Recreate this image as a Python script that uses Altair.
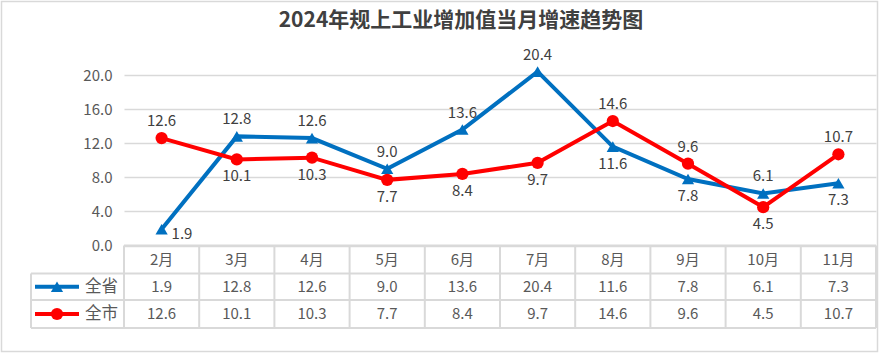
import altair as alt
import pandas as pd

# ---------------- data ----------------
months = ["2月", "3月", "4月", "5月", "6月", "7月", "8月", "9月", "10月", "11月"]
province = [1.9, 12.8, 12.6, 9.0, 13.6, 20.4, 11.6, 7.8, 6.1, 7.3]
city = [12.6, 10.1, 10.3, 7.7, 8.4, 9.7, 14.6, 9.6, 4.5, 10.7]
series_names = ["全省", "全市"]
series_colors = ["#0070C0", "#FF0000"]
series_shapes = ["triangle-up", "circle"]
y_ticks = [0, 4, 8, 12, 16, 20]
title_text = "2024年规上工业增加值当月增速趋势图"

# ---------------- layout constants ----------------
W = 752                 # plot width (10 columns)
PLOT_PX = 170.5         # pixel height of the 0..20 part
TABLE_PX = 82.5         # pixel height of the data table
H = PLOT_PX + TABLE_PX
Y_MAX = 20.0
PX = PLOT_PX / Y_MAX
Y_MIN = -TABLE_PX / PX
COL_PX = W / len(months)
row_bounds = [0.0, -28.0 / PX, -54.5 / PX, Y_MIN]
row_centers = [(row_bounds[i] + row_bounds[i + 1]) / 2 for i in range(3)]
LEG_LEFT = -93 / COL_PX
LEG_LINE_L = -89 / COL_PX
LEG_LINE_R = -45 / COL_PX
LEG_MARK = -67 / COL_PX
LEG_TEXT = -39 / COL_PX

FONT = "Noto Sans CJK SC"
GRID = "#d9d9d9"

# ---------------- tables ----------------
rows = []
for s, vals, other in [(series_names[0], province, city), (series_names[1], city, province)]:
    for i, (m, v, o) in enumerate(zip(months, vals, other)):
        if v >= o:
            pos = "above"
        elif v < 3:
            pos = "right"
        else:
            pos = "below"
        rows.append({"series": s, "month": m, "x": i + 0.5, "v": v, "pos": pos})
df = pd.DataFrame(rows)

seg = []
for i in range(len(months) + 1):
    seg.append({"x": float(i), "x2": float(i), "y": 0.0, "y2": Y_MIN})
seg.append({"x": LEG_LEFT, "x2": LEG_LEFT, "y": row_bounds[1], "y2": Y_MIN})
seg.append({"x": 0.0, "x2": float(len(months)), "y": 0.0, "y2": 0.0})
for b in row_bounds[1:]:
    seg.append({"x": LEG_LEFT, "x2": float(len(months)), "y": b, "y2": b})
seg_df = pd.DataFrame(seg)

header_df = pd.DataFrame({"x": [i + 0.5 for i in range(len(months))],
                          "y": [row_centers[0]] * len(months), "t": months})
cell_rows = []
for k, (s, vals) in enumerate([(series_names[0], province), (series_names[1], city)]):
    for i, v in enumerate(vals):
        cell_rows.append({"x": i + 0.5, "y": row_centers[k + 1], "t": f"{v:.1f}", "series": s})
cell_df = pd.DataFrame(cell_rows)

leg_df = pd.DataFrame({
    "series": series_names,
    "y": row_centers[1:],
    "xl": [LEG_LINE_L] * 2, "xr": [LEG_LINE_R] * 2,
    "xm": [LEG_MARK] * 2, "xt": [LEG_TEXT] * 2,
})

# ---------------- encodings ----------------
xscale = alt.Scale(domain=[0, len(months)], nice=False, zero=False)
yscale = alt.Scale(domain=[Y_MIN, Y_MAX], nice=False, zero=False)
yaxis = alt.Axis(values=y_ticks, format=".1f", title=None, grid=True, gridColor=GRID,
                 gridWidth=1.3, domain=False, ticks=False, labelPadding=12,
                 labelFontSize=15, labelColor="#595959", labelFont=FONT)
color = alt.Color("series:N", scale=alt.Scale(domain=series_names, range=series_colors), legend=None)
shape = alt.Shape("series:N", scale=alt.Scale(domain=series_names, range=series_shapes), legend=None)


def X(f):
    return alt.X(f, type="quantitative", scale=xscale, axis=None)


def Y(f):
    return alt.Y(f, type="quantitative", scale=yscale, axis=yaxis)


base = alt.Chart(df)

lines = base.mark_line(strokeWidth=4).encode(x=X("x"), y=Y("v"), color=color, detail="series:N")
points = base.mark_point(filled=True, size=150, opacity=1).encode(x=X("x"), y=Y("v"), color=color, shape=shape)

lbl = dict(font=FONT, fontSize=15, color="#404040", baseline="middle")
lab_above = base.transform_filter(alt.datum.pos == "above").mark_text(dy=-17, **lbl).encode(
    x=X("x"), y=Y("v"), text=alt.Text("v:Q", format=".1f"))
lab_below = base.transform_filter(alt.datum.pos == "below").mark_text(dy=17, **lbl).encode(
    x=X("x"), y=Y("v"), text=alt.Text("v:Q", format=".1f"))
lab_right = base.transform_filter(alt.datum.pos == "right").mark_text(dx=10, dy=5, align="left", **lbl).encode(
    x=X("x"), y=Y("v"), text=alt.Text("v:Q", format=".1f"))

table_lines = alt.Chart(seg_df).mark_rule(color=GRID, strokeWidth=2).encode(
    x=X("x"), x2="x2", y=Y("y"), y2="y2")

tcell = dict(font=FONT, fontSize=15, color="#595959", baseline="middle", align="center")
header = alt.Chart(header_df).mark_text(**tcell).encode(x=X("x"), y=Y("y"), text="t:N")
cells = alt.Chart(cell_df).mark_text(**tcell).encode(x=X("x"), y=Y("y"), text="t:N")

leg_line = alt.Chart(leg_df).mark_rule(strokeWidth=4).encode(x=X("xl"), x2="xr", y=Y("y"), color=color)
leg_pt = alt.Chart(leg_df).mark_point(filled=True, size=150, opacity=1).encode(
    x=X("xm"), y=Y("y"), color=color, shape=shape)
leg_txt = alt.Chart(leg_df).mark_text(font=FONT, fontSize=16.5, color="#595959", align="left",
                                      baseline="middle").encode(x=X("xt"), y=Y("y"), text="series:N")

one = pd.DataFrame({"t": [title_text]})
frame = alt.Chart(one).mark_rect(fillOpacity=0, stroke=GRID, strokeWidth=1.5).encode(
    x=alt.value(-122.5), x2=alt.value(753.5), y=alt.value(-73.5), y2=alt.value(276.5))
title = alt.Chart(one).mark_text(font=FONT, fontSize=21, fontWeight="bold", color="#404040",
                                 align="center", baseline="middle").encode(
    x=alt.value(337), y=alt.value(-54), text="t:N")

chart = alt.layer(
    frame, table_lines, header, cells, leg_line, leg_pt, leg_txt,
    lines, points, lab_above, lab_below, lab_right, title
).properties(
    width=W, height=H,
    autosize=alt.AutoSizeParams(type="none"),
    padding={"left": 124, "top": 75, "right": 4, "bottom": 26},
    background="white",
).configure_view(stroke=None)

chart.save("out.html", embed_options={"renderer": "svg", "actions": False})
